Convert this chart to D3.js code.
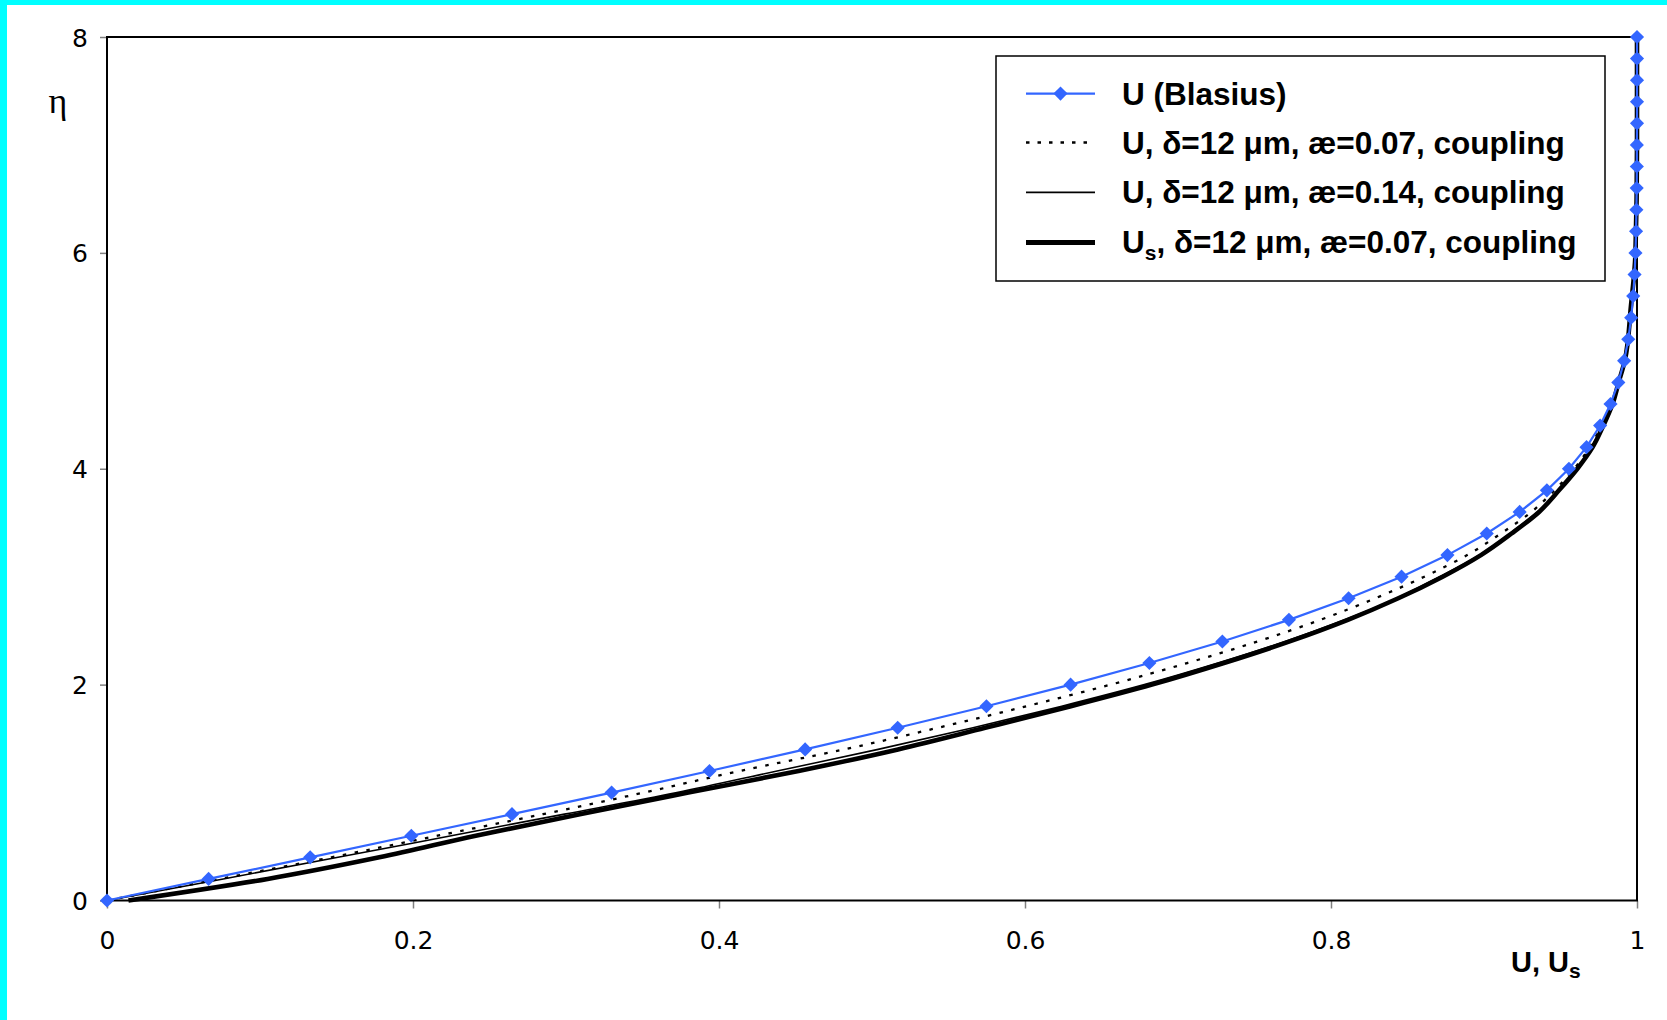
<!DOCTYPE html>
<html>
<head>
<meta charset="utf-8">
<script src="https://cdn.jsdelivr.net/npm/d3@7"></script>
<style>
  html, body { margin: 0; padding: 0; background: #fff; }
  svg { display: block; }
</style>
</head>
<body>
<svg id="chart" width="1667" height="1020"></svg>
<script>
// Blasius similarity profile U(eta), tabulated every 0.2
const etaBlasius = [0.0, 0.2, 0.4, 0.6, 0.8, 1.0, 1.2, 1.4, 1.6, 1.8, 2.0, 2.2, 2.4, 2.6, 2.8, 3.0, 3.2, 3.4, 3.6, 3.8,
                    4.0, 4.2, 4.4, 4.6, 4.8, 5.0, 5.2, 5.4, 5.6, 5.8, 6.0, 6.2, 6.4, 6.6, 6.8, 7.0, 7.2, 7.4, 7.6, 7.8, 8.0];
const uBlasius = [0.0, 0.0664, 0.1328, 0.1989, 0.2647, 0.3298, 0.3938, 0.4563, 0.5168, 0.5748, 0.6298, 0.6813, 0.7290,
                  0.7725, 0.8115, 0.8461, 0.8761, 0.9018, 0.9233, 0.9411, 0.9555, 0.9670, 0.9759, 0.9827, 0.9878,
                  0.9916, 0.9943, 0.9962, 0.9975, 0.9984, 0.9990, 0.9994, 0.9996, 0.9998, 0.9999, 0.9999, 1.0, 1.0,
                  1.0, 1.0, 1.0];

// Coupled-model profiles (delta = 12 um)
const etaModel = [0.0, 0.2, 0.4, 0.6, 0.8, 1.0, 1.2, 1.4, 1.6, 1.8, 2.0, 2.2, 2.4, 2.6, 2.8, 3.0, 3.2, 3.4, 3.6, 3.8,
                  4.0, 4.2, 4.4, 4.6, 4.8, 5.0, 5.5, 6.0, 7.0, 8.0];
const uAe007 = [0.0, 0.0737, 0.1467, 0.216, 0.285, 0.351, 0.4135, 0.482, 0.543, 0.601, 0.656, 0.706, 0.752, 0.793,
                0.829, 0.861, 0.889, 0.911, 0.931, 0.946, 0.959, 0.969, 0.977, 0.984, 0.988, 0.992, 0.996, 0.999,
                1.0, 1.0];
const uAe014 = [0.0, 0.076, 0.151, 0.225, 0.299, 0.3725, 0.438, 0.504, 0.566, 0.624, 0.678, 0.726, 0.770, 0.809,
                0.843, 0.871, 0.897, 0.917, 0.935, 0.949, 0.961, 0.970, 0.978, 0.984, 0.988, 0.992, 0.996, 0.999,
                1.0, 1.0];
const usAe007 = [0.014, 0.105, 0.178, 0.241, 0.309, 0.38, 0.452, 0.517, 0.574, 0.630, 0.683, 0.730, 0.773, 0.811,
                 0.844, 0.873, 0.898, 0.918, 0.936, 0.949, 0.961, 0.971, 0.978, 0.984, 0.988, 0.992, 0.996, 0.999,
                 1.0, 1.0];

const xTicks = [0, 0.2, 0.4, 0.6, 0.8, 1];
const xTickLabels = ["0", "0.2", "0.4", "0.6", "0.8", "1"];
const yTicks = [0, 2, 4, 6, 8];

const legendLabels = [
  "U (Blasius)",
  "U, δ=12 μm, æ=0.07, coupling",
  "U, δ=12 μm, æ=0.14, coupling",
  ", δ=12 μm, æ=0.07, coupling"
];

const BLUE = "#3366ff";

const svg = d3.select("#chart");

// page background and cyan frame
svg.append("rect").attr("x", 0).attr("y", 0).attr("width", 1667).attr("height", 1020).attr("fill", "#fff");
svg.append("rect").attr("x", 0).attr("y", 0).attr("width", 1667).attr("height", 5).attr("fill", "#00ffff");
svg.append("rect").attr("x", 0).attr("y", 0).attr("width", 7).attr("height", 1020).attr("fill", "#00ffff");

const x = d3.scaleLinear().domain([0, 1]).range([107, 1637]);
const y = d3.scaleLinear().domain([0, 8]).range([900.5, 37]);

// axes with outward grey ticks
const xAxis = svg.append("g").attr("transform", `translate(0,${y(0)})`)
  .call(d3.axisBottom(x).tickValues(xTicks).tickSize(8).tickSizeOuter(0)
        .tickFormat((d, i) => xTickLabels[i]));
const yAxis = svg.append("g").attr("transform", `translate(${x(0)},0)`)
  .call(d3.axisLeft(y).tickValues(yTicks).tickSize(7).tickSizeOuter(0).tickFormat(d3.format("d")));

[xAxis, yAxis].forEach(g => {
  g.select(".domain").remove();
  g.selectAll(".tick line").attr("stroke", "#808080").attr("stroke-width", 1.5);
  g.selectAll(".tick text")
    .attr("font-family", "'DejaVu Sans', Verdana, sans-serif")
    .attr("font-size", 25).attr("fill", "#000");
});
xAxis.selectAll(".tick text").attr("dy", null).attr("y", 48);
yAxis.selectAll(".tick text").attr("x", -19).attr("dy", "0.36em");

// plot frame
svg.append("rect")
  .attr("x", x(0)).attr("y", y(8))
  .attr("width", x(1) - x(0)).attr("height", y(0) - y(8))
  .attr("fill", "none").attr("stroke", "#000").attr("stroke-width", 2);

const plot = svg.append("g");

const lineFor = (etas) => d3.line()
  .x((d) => x(d))
  .y((d, i) => y(etas[i]))
  .curve(d3.curveMonotoneY);

// U_s, ae = 0.07 (thick)
plot.append("path").datum(usAe007)
  .attr("d", lineFor(etaModel)).attr("fill", "none")
  .attr("stroke", "#000").attr("stroke-width", 4.6).attr("stroke-linejoin", "round");

// U, ae = 0.14 (thin solid)
plot.append("path").datum(uAe014)
  .attr("d", lineFor(etaModel)).attr("fill", "none")
  .attr("stroke", "#000").attr("stroke-width", 1.6);

// U, ae = 0.07 (dotted)
plot.append("path").datum(uAe007)
  .attr("d", lineFor(etaModel)).attr("fill", "none")
  .attr("stroke", "#000").attr("stroke-width", 2.3).attr("stroke-dasharray", "3.5,8.5");

// Blasius profile with diamond markers
plot.append("path").datum(uBlasius)
  .attr("d", d3.line().x((d) => x(d)).y((d, i) => y(etaBlasius[i])))
  .attr("fill", "none").attr("stroke", BLUE).attr("stroke-width", 2.2);

const diamond = d3.symbol().type(d3.symbolSquare).size(100);
plot.selectAll("path.marker").data(uBlasius).join("path")
  .attr("class", "marker")
  .attr("d", diamond)
  .attr("transform", (d, i) => `translate(${x(d)},${y(etaBlasius[i])}) rotate(45)`)
  .attr("fill", BLUE);

// axis titles
svg.append("text")
  .attr("x", 58).attr("y", 113)
  .attr("text-anchor", "middle")
  .attr("font-family", "'Liberation Serif', 'Times New Roman', serif")
  .attr("font-size", 36).attr("fill", "#000")
  .text("η");

const xTitle = svg.append("text")
  .attr("x", 1511).attr("y", 972)
  .attr("font-family", "'Liberation Sans', Arial, sans-serif")
  .attr("font-weight", "bold").attr("font-size", 29).attr("fill", "#000");
xTitle.append("tspan").text("U, U");
xTitle.append("tspan").attr("font-size", 21).attr("dy", 6).text("s");

// legend
const legend = svg.append("g");
legend.append("rect")
  .attr("x", 996).attr("y", 56).attr("width", 609).attr("height", 225)
  .attr("fill", "#fff").attr("stroke", "#000").attr("stroke-width", 1.5);

const rowY = [93.6, 142.5, 192.4, 242.4];
const lx0 = 1026, lx1 = 1095;

legend.append("line").attr("x1", lx0).attr("x2", lx1).attr("y1", rowY[0]).attr("y2", rowY[0])
  .attr("stroke", BLUE).attr("stroke-width", 2.2);
legend.append("path").attr("d", diamond)
  .attr("transform", `translate(${(lx0 + lx1) / 2},${rowY[0]}) rotate(45)`).attr("fill", BLUE);
legend.append("line").attr("x1", lx0).attr("x2", lx1).attr("y1", rowY[1]).attr("y2", rowY[1])
  .attr("stroke", "#000").attr("stroke-width", 2.3).attr("stroke-dasharray", "3.5,8");
legend.append("line").attr("x1", lx0).attr("x2", lx1).attr("y1", rowY[2]).attr("y2", rowY[2])
  .attr("stroke", "#000").attr("stroke-width", 1.6);
legend.append("line").attr("x1", lx0).attr("x2", lx1).attr("y1", rowY[3]).attr("y2", rowY[3])
  .attr("stroke", "#000").attr("stroke-width", 5);

legendLabels.forEach((label, i) => {
  const t = legend.append("text")
    .attr("x", 1122).attr("y", rowY[i] + 11)
    .attr("font-family", "'Liberation Sans', Arial, sans-serif")
    .attr("font-weight", "bold").attr("font-size", 31.5).attr("fill", "#000");
  if (i === 3) {
    t.append("tspan").text("U");
    t.append("tspan").attr("font-size", 21).attr("dy", 7).text("s");
    t.append("tspan").attr("dy", -7).text(label);
  } else {
    t.text(label);
  }
});
</script>
</body>
</html>
